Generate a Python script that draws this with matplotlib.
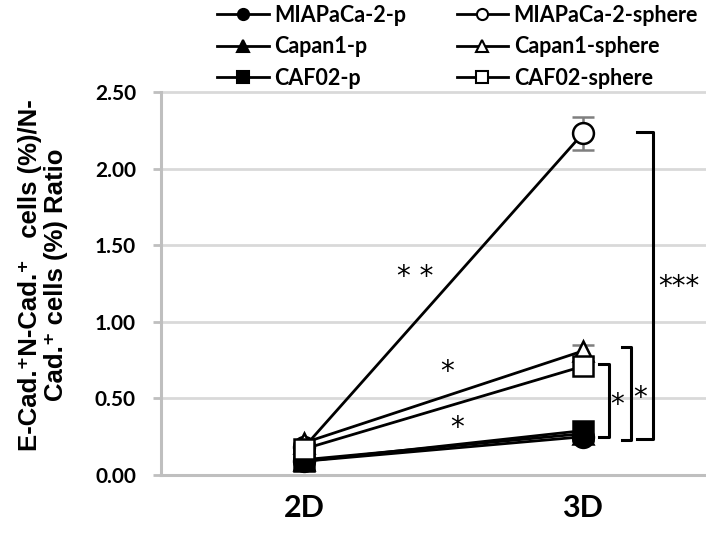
# Linienplot E-Cad/N-Cad Verhaeltnis 2D vs 3D mit Signifikanz-Klammern
import matplotlib.pyplot as plt
from matplotlib.lines import Line2D

# Daten
conditions = ['2D', '3D']
series_names = ['MIAPaCa-2-p', 'Capan1-p', 'CAF02-p',
                'MIAPaCa-2-sphere', 'Capan1-sphere', 'CAF02-sphere']
miapaca_p = [0.09, 0.25]
capan1_p = [0.10, 0.27]
caf02_p = [0.09, 0.29]
miapaca_sphere = [0.18, 2.23]
capan1_sphere = [0.21, 0.81]
caf02_sphere = [0.17, 0.71]
miapaca_sphere_err = [0.0, 0.11]
capan1_sphere_err = [0.0, 0.04]

yticks = [0.0, 0.5, 1.0, 1.5, 2.0, 2.5]

fig = plt.figure(figsize=(7.06, 5.38), dpi=100)
ax = fig.add_axes([0.228, 0.117, 0.772, 0.712])

x = list(range(len(conditions)))
lw = 2.0
ms = 15

# Fehlerbalken (hinter Markern)
ax.errorbar(x, miapaca_sphere, yerr=miapaca_sphere_err, fmt='none',
            ecolor='#7f7f7f', elinewidth=1.8, capsize=8, capthick=1.8, zorder=2)
ax.errorbar(x, capan1_sphere, yerr=capan1_sphere_err, fmt='none',
            ecolor='#7f7f7f', elinewidth=1.8, capsize=8, capthick=1.8, zorder=2)

# Linien
markers = ['o', '^', 's', 'o', '^', 's']
faces = ['black', 'black', 'black', 'white', 'white', 'white']
all_vals = [miapaca_p, capan1_p, caf02_p,
            miapaca_sphere, capan1_sphere, caf02_sphere]
for vals, m, fc in zip(all_vals, markers, faces):
    ax.plot(x, vals, color='black', lw=lw, marker=m, markersize=ms,
            markerfacecolor=fc, markeredgecolor='black', markeredgewidth=1.8,
            zorder=3)

# Achsen
ax.set_xlim(-0.5125, 1.441)
ax.set_ylim(0, 2.5)
ax.set_yticks(yticks)
ax.set_yticklabels([f'{v:.2f}' for v in yticks], fontsize=15,
                   fontweight='bold', family='Lato')
ax.set_xticks(x)
ax.set_xticklabels(conditions, fontsize=22, fontweight='bold', family='Lato')
ax.tick_params(axis='x', length=0, pad=14)
ax.tick_params(axis='y', length=6, width=2, color='#bfbfbf', pad=12)
for s in ['top', 'right']:
    ax.spines[s].set_visible(False)
for s in ['left', 'bottom']:
    ax.spines[s].set_color('#bfbfbf')
    ax.spines[s].set_linewidth(2.2)
ax.yaxis.grid(True, color='#d9d9d9', lw=2)
for gl in ax.get_ygridlines():
    gl.set_clip_on(False)
ax.set_axisbelow(True)

# y-Beschriftung
fig.text(0.061, 0.489,
         'E-Cad.\u207aN-Cad.\u207a   cells (%)/N-\nCad.\u207a cells (%) Ratio',
         rotation=90, ha='center', va='center', multialignment='center',
         fontsize=18.5, fontweight='bold',
         family=['Liberation Sans', 'DejaVu Sans'], linespacing=1.15)

# Signifikanz-Klammern
def bracket(x0, x1, ybot, ytop):
    ax.plot([x0, x1, x1, x0], [ytop, ytop, ybot, ybot], color='black',
            lw=2.2, clip_on=False, zorder=4)

bracket(1.194, 1.251, 0.235, 2.24)
bracket(1.140, 1.172, 0.23, 0.835)
bracket(1.057, 1.093, 0.25, 0.725)

star_kw = dict(fontsize=20, family='DejaVu Sans', ha='center', va='center')
ax.text(1.345, 1.23, '***', clip_on=False, **star_kw)
ax.text(1.204, 0.50, '*', **star_kw)
ax.text(1.122, 0.46, '*', **star_kw)
ax.text(0.40, 1.29, '* *', **star_kw)
ax.text(0.513, 0.67, '*', **star_kw)
ax.text(0.548, 0.31, '*', **star_kw)

# Legende
handles = [Line2D([], [], color='black', lw=lw, marker=m, markersize=8,
                  markerfacecolor=f, markeredgecolor='black',
                  markeredgewidth=1.5) for m, f in zip(markers, faces)]
fig.legend(handles, series_names, ncol=2, loc='center',
           bbox_to_anchor=(0.648, 0.913), frameon=False,
           prop={'family': 'Lato', 'weight': 'bold', 'size': 15.5},
           handlelength=2.4, handletextpad=0.25, columnspacing=2.35,
           labelspacing=0.49)

plt.savefig('out.png', dpi=100)
